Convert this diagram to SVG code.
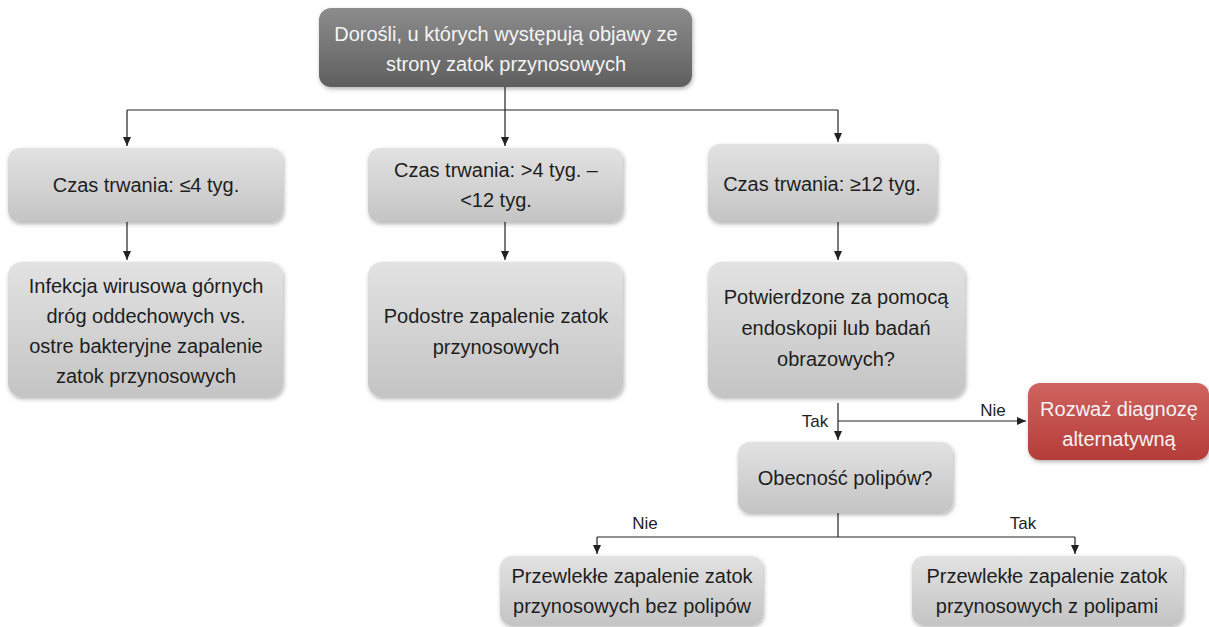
<svg xmlns="http://www.w3.org/2000/svg" width="1209" height="627" viewBox="0 0 1209 627">
<style>
.box{fill:url(#g);filter:url(#sh)}
.t{font-family:"Liberation Sans",Arial,sans-serif;font-size:20px;fill:#1e1e1e;text-anchor:middle}
.w{fill:#f4f4f4}
.lbl{font-family:"Liberation Sans",Arial,sans-serif;font-size:17px;fill:#1e1e1e;text-anchor:middle}
.c{stroke:#222;stroke-width:1.2;fill:none}
</style>
<defs>
<linearGradient id="g" x1="0" y1="0" x2="0" y2="1"><stop offset="0" stop-color="#e2e2e2"/><stop offset="1" stop-color="#c4c4c4"/></linearGradient>
<linearGradient id="gd" x1="0" y1="0" x2="0" y2="1"><stop offset="0" stop-color="#8c8c8c"/><stop offset="1" stop-color="#5f5f5f"/></linearGradient>
<linearGradient id="gr" x1="0" y1="0" x2="0" y2="1"><stop offset="0" stop-color="#cf6460"/><stop offset="1" stop-color="#b53c38"/></linearGradient>
<filter id="sh" x="-10%" y="-10%" width="125%" height="130%"><feDropShadow dx="1" dy="2" stdDeviation="2" flood-color="#000" flood-opacity="0.3"/></filter>
<marker id="a" markerWidth="10" markerHeight="10" refX="9" refY="5" orient="auto" markerUnits="userSpaceOnUse"><path d="M0,1 L9,5 L0,9 z" fill="#222"/></marker>
</defs>
<g id="connectors">
<path class="c" d="M505,87 V110 M127,110 H838"/>
<path class="c" d="M127,110 V146" marker-end="url(#a)"/>
<path class="c" d="M505,110 V146" marker-end="url(#a)"/>
<path class="c" d="M838,110 V142" marker-end="url(#a)"/>
<path class="c" d="M127,222 V260" marker-end="url(#a)"/>
<path class="c" d="M505,222 V260" marker-end="url(#a)"/>
<path class="c" d="M838,222 V260" marker-end="url(#a)"/>
<path class="c" d="M838,403 V440" marker-end="url(#a)"/>
<path class="c" d="M838,421 H1026" marker-end="url(#a)"/>
<path class="c" d="M838,513 V537 M597,537 H1075"/>
<path class="c" d="M597,537 V554" marker-end="url(#a)"/>
<path class="c" d="M1075,537 V554" marker-end="url(#a)"/>
<text class="lbl" x="815" y="427">Tak</text>
<text class="lbl" x="993" y="416">Nie</text>
<text class="lbl" x="645" y="529">Nie</text>
<text class="lbl" x="1023" y="529">Tak</text>
</g>
<g id="n0"><rect x="319" y="8" width="373" height="79" rx="12" fill="url(#gd)" filter="url(#sh)"/>
<text class="t w" x="506" y="41">Dorośli, u których występują objawy ze</text>
<text class="t w" x="506" y="71">strony zatok przynosowych</text></g>
<g id="n1"><rect class="box" x="8" y="148" width="275" height="74" rx="12"/>
<text class="t" x="146" y="192">Czas trwania: ≤4 tyg.</text></g>
<g id="n2"><rect class="box" x="368" y="148" width="255" height="74" rx="12"/>
<text class="t" x="496" y="177">Czas trwania: &gt;4 tyg. –</text>
<text class="t" x="496" y="207">&lt;12 tyg.</text></g>
<g id="n3"><rect class="box" x="708" y="144" width="229" height="78" rx="12"/>
<text class="t" x="822" y="191">Czas trwania: ≥12 tyg.</text></g>
<g id="n4"><rect class="box" x="8" y="262" width="275" height="135" rx="14"/>
<text class="t" x="146" y="293">Infekcja wirusowa górnych</text>
<text class="t" x="146" y="323">dróg oddechowych vs.</text>
<text class="t" x="146" y="353">ostre bakteryjne zapalenie</text>
<text class="t" x="146" y="383">zatok przynosowych</text></g>
<g id="n5"><rect class="box" x="368" y="262" width="255" height="135" rx="14"/>
<text class="t" x="496" y="323">Podostre zapalenie zatok</text>
<text class="t" x="496" y="354">przynosowych</text></g>
<g id="n6"><rect class="box" x="708" y="262" width="257" height="135" rx="14"/>
<text class="t" x="836" y="304">Potwierdzone za pomocą</text>
<text class="t" x="836" y="335">endoskopii lub badań</text>
<text class="t" x="836" y="366">obrazowych?</text></g>
<g id="n7"><rect x="1028" y="383" width="181" height="77" rx="12" fill="url(#gr)" filter="url(#sh)"/>
<text class="t w" x="1119" y="416">Rozważ diagnozę</text>
<text class="t w" x="1119" y="446">alternatywną</text></g>
<g id="n8"><rect class="box" x="738" y="442" width="215" height="71" rx="12"/>
<text class="t" x="845" y="485">Obecność polipów?</text></g>
<g id="n9"><rect class="box" x="500" y="556" width="263" height="69" rx="12"/>
<text class="t" x="632" y="583">Przewlekłe zapalenie zatok</text>
<text class="t" x="632" y="613">przynosowych  bez polipów</text></g>
<g id="n10"><rect class="box" x="912" y="556" width="271" height="69" rx="12"/>
<text class="t" x="1047" y="583">Przewlekłe zapalenie zatok</text>
<text class="t" x="1047" y="613">przynosowych z polipami</text></g>
</svg>
